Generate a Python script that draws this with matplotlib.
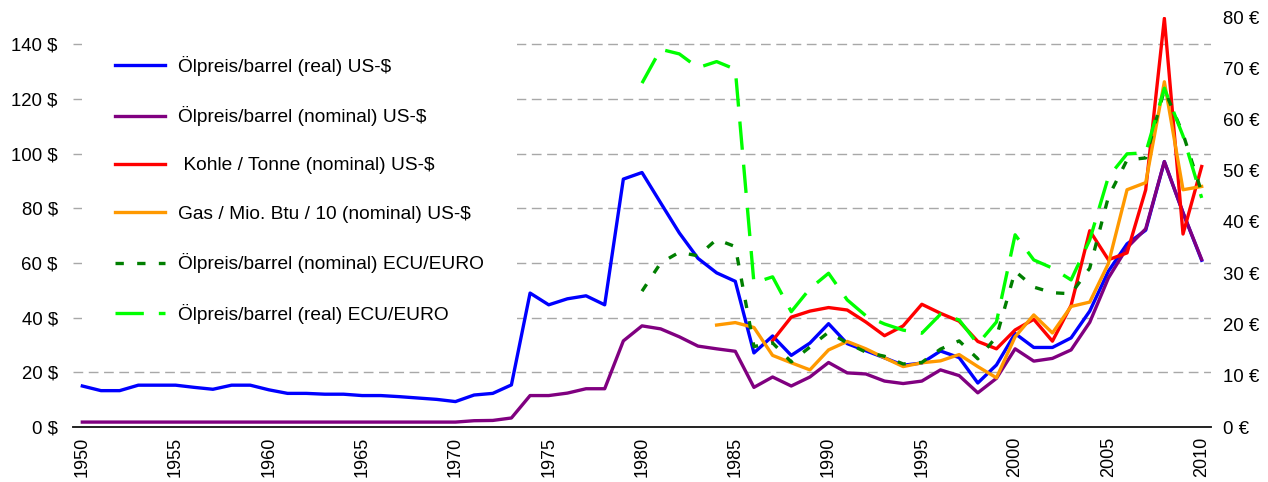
import numpy as np
import matplotlib
matplotlib.use('Agg')
from matplotlib import pyplot as plt

plt.rcParams['font.family'] = ['Liberation Sans', 'DejaVu Sans']

years = list(range(1950, 2011))

# Ölpreis/barrel (real) US-$, 1950-2010
oil_real_usd = [15.0, 13.3, 13.3, 15.3, 15.3, 15.3, 14.5, 13.8, 15.3, 15.3,
                13.6, 12.3, 12.3, 12.0, 12.0, 11.5, 11.5, 11.1, 10.6, 10.1,
                9.3, 11.7, 12.3, 15.4, 49.0, 44.7, 46.9, 48.0, 44.7, 90.7,
                93.1, 82.0, 71.0, 61.7, 56.4, 53.3, 27.1, 33.3, 26.2, 30.7,
                37.8, 30.5, 27.9, 25.3, 22.6, 23.4, 27.8, 25.4, 16.1, 22.7,
                34.2, 29.1, 29.1, 32.6, 42.4, 57.0, 67.0, 72.0, 97.1, 78.4,
                61.0]
# Ölpreis/barrel (nominal) US-$
oil_nom_usd = [1.8] * 21 + [2.3, 2.4, 3.3, 11.5, 11.5, 12.4, 14.0, 14.0, 31.5,
               37.0, 35.9, 33.0, 29.6, 28.6, 27.7, 14.5, 18.3, 15.0, 18.3,
               23.6, 19.8, 19.4, 16.8, 15.9, 16.8, 20.9, 18.8, 12.5, 17.8,
               28.6, 24.1, 25.1, 28.2, 38.3, 54.5, 65.6, 72.5, 97.1, 78.4,
               61.3]
# Kohle / Tonne (nominal) US-$, 1987-2010
coal_years = list(range(1987, 2011))
coal_nom_usd = [31.6, 40.2, 42.4, 43.7, 42.8, 38.4, 33.4, 37.0, 44.9, 41.6,
                38.7, 31.3, 28.6, 35.5, 39.4, 31.4, 44.5, 71.8, 61.2, 63.7,
                86.8, 149.5, 70.6, 95.3]
# Gas / Mio. Btu / 10 (nominal) US-$, 1984-2010
gas_years = list(range(1984, 2011))
gas_nom_usd = [37.3, 38.2, 36.4, 26.2, 23.5, 20.9, 28.2, 31.3, 28.6, 25.3,
               22.1, 23.5, 24.2, 26.5, 22.1, 18.0, 33.0, 41.0, 34.4, 44.1,
               45.7, 59.8, 86.8, 89.4, 126.3, 86.8, 88.0]
# Ölpreis/barrel ECU/EURO, right axis, 1980-2010
eur_years = list(range(1980, 2011))
oil_nom_eur = [26.5, 32.0, 34.1, 33.4, 36.6, 35.2, 15.7, 16.4, 12.7, 15.6,
               18.5, 16.4, 14.6, 13.8, 12.3, 12.6, 15.2, 16.8, 13.3, 17.6,
               30.4, 27.3, 26.2, 26.0, 31.0, 44.9, 52.1, 52.5, 65.8, 57.2,
               45.8]
oil_real_eur = [67.1, 73.7, 72.8, 70.1, 71.3, 69.8, 28.1, 29.3, 22.5, 27.0,
                30.0, 24.8, 21.7, 20.1, 18.9, 18.3, 22.0, 20.9, 16.2, 20.5,
                37.5, 32.6, 31.0, 28.7, 36.5, 48.8, 53.3, 53.5, 66.1, 56.8,
                44.7]

left_ticks = list(range(0, 141, 20))
right_ticks = list(range(0, 81, 10))

fig = plt.figure(figsize=(12.68, 4.82), dpi=100)
ax = fig.add_axes([73 / 1268, 55 / 482, 1138 / 1268, 410 / 482])
ax2 = ax.twinx()

lw = 2.4
l1, = ax.plot(years, oil_real_usd, color='#0000ff', lw=lw,
              label='Ölpreis/barrel (real) US-$')
l2, = ax.plot(years, oil_nom_usd, color='#800080', lw=lw,
              label='Ölpreis/barrel (nominal) US-$')
l3, = ax.plot(coal_years, coal_nom_usd, color='#ff0000', lw=lw,
              label=' Kohle / Tonne (nominal) US-$')
l4, = ax.plot(gas_years, gas_nom_usd, color='#ff9900', lw=lw,
              label='Gas / Mio. Btu / 10 (nominal) US-$')
l5, = ax2.plot(eur_years, oil_nom_eur, color='#007f00', lw=lw,
               ls=(0, (2.5, 4.0)), label='Ölpreis/barrel (nominal) ECU/EURO')
l6, = ax2.plot(eur_years, oil_real_eur, color='#00ff00', lw=lw,
               ls=(0, (8.5, 4.5)), label='Ölpreis/barrel (real) ECU/EURO')

ax.set_xlim(1949.5, 2010.5)
ax.set_ylim(0, 150)
ax2.set_ylim(0, 80)

ax.set_yticks(left_ticks)
ax.set_yticklabels([f'{v} $' for v in left_ticks])
ax2.set_yticks(right_ticks)
ax2.set_yticklabels([f'{v} €' for v in right_ticks])
ax.set_xticks(range(1950, 2011, 5))
ax.tick_params(axis='x', labelrotation=90, length=0, pad=7, labelsize=13)
ax.tick_params(axis='y', length=0, pad=11, labelsize=13.4)
ax2.tick_params(axis='y', length=0, pad=8.5, labelsize=13.4)

ax.yaxis.grid(True, color='#a8a8a8', lw=1.0, ls=(0, (7, 4)))
ax.set_axisbelow(True)
for a in (ax, ax2):
    for s in ('top', 'left', 'right'):
        a.spines[s].set_visible(False)
    a.spines['bottom'].set_color('#222222')
    a.spines['bottom'].set_linewidth(1.2)

# legend sits above the gridlines but under the data lines
leg = ax.legend(handles=[l1, l2, l3, l4, l5, l6], loc='upper left',
                bbox_to_anchor=(0.008, 0.985), borderaxespad=0,
                fontsize=13.8, labelspacing=1.6, handlelength=2.6,
                handletextpad=0.72, borderpad=1.7, frameon=True,
                fancybox=False)
leg.get_frame().set_facecolor('white')
leg.get_frame().set_edgecolor('none')
leg.get_frame().set_alpha(1)
leg.set_zorder(1.5)

fig.savefig('out.png', dpi=100)
